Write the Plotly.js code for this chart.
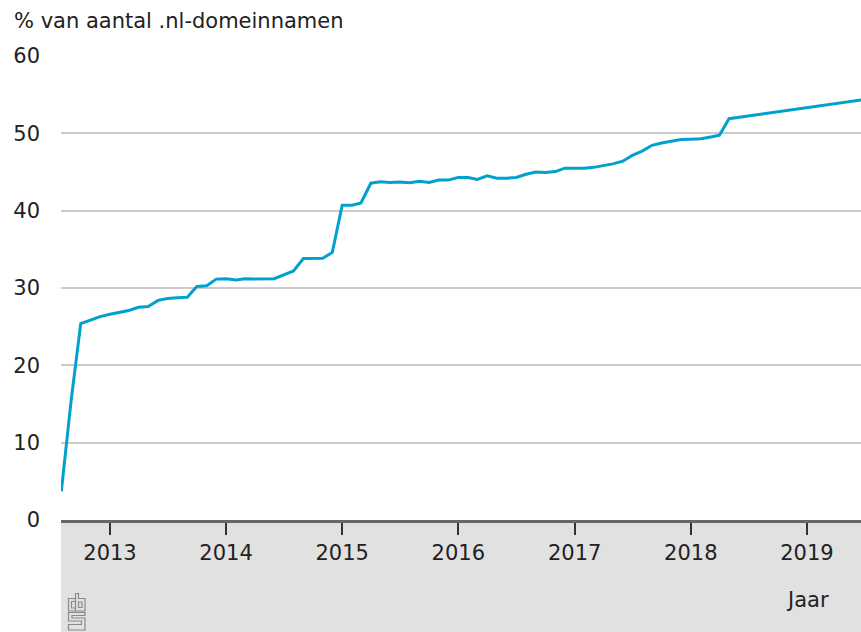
<!DOCTYPE html>
<html><head><meta charset="utf-8">
<script src="https://cdn.plot.ly/plotly-3.0.1.min.js"></script>
<style>html,body{margin:0;padding:0;background:#fff}#chart{width:861px;height:632px}</style>
</head><body><div id="chart"></div>
<script>
const dates = [
 '2012-08-01','2012-09-01','2012-10-01','2012-11-01','2012-12-01',
 '2013-01-01','2013-02-01','2013-03-01','2013-04-01','2013-05-01','2013-06-01','2013-07-01','2013-08-01','2013-09-01','2013-10-01','2013-11-01','2013-12-01',
 '2014-01-01','2014-02-01','2014-03-01','2014-04-01','2014-05-01','2014-06-01','2014-07-01','2014-08-01','2014-09-01','2014-10-01','2014-11-01','2014-12-01',
 '2015-01-01','2015-02-01','2015-03-01','2015-04-01','2015-05-01','2015-06-01','2015-07-01','2015-08-01','2015-09-01','2015-10-01','2015-11-01','2015-12-01',
 '2016-01-01','2016-02-01','2016-03-01','2016-04-01','2016-05-01','2016-06-01','2016-07-01','2016-08-01','2016-09-01','2016-10-01','2016-11-01','2016-12-01',
 '2017-01-01','2017-02-01','2017-03-01','2017-04-01','2017-05-01','2017-06-01','2017-07-01','2017-08-01','2017-09-01','2017-10-01','2017-11-01','2017-12-01',
 '2018-01-01','2018-02-01','2018-03-01','2018-04-01','2018-05-01',
 '2019-07-01'
];
const values = [
 3.7,15.5,25.4,25.9,26.3,
 26.6,26.85,27.1,27.5,27.6,28.4,28.65,28.75,28.8,30.2,30.3,31.15,
 31.2,31.05,31.2,31.15,31.15,31.2,31.7,32.2,33.8,33.8,33.85,34.6,
 40.7,40.7,41.0,43.55,43.75,43.65,43.7,43.6,43.8,43.65,43.95,43.95,
 44.3,44.3,44.05,44.5,44.2,44.2,44.3,44.7,45.0,44.95,45.05,45.5,
 45.5,45.5,45.6,45.8,46.05,46.4,47.15,47.7,48.45,48.75,49.0,49.2,
 49.25,49.3,49.5,49.75,51.9,
 54.37
];
const yTicks = [0,10,20,30,40,50,60];
const xTickVals = ['2013-01-01','2014-01-01','2015-01-01','2016-01-01','2017-01-01','2018-01-01','2019-01-01'];
const xTickText = ['2013','2014','2015','2016','2017','2018','2019'];
const yTitle = '% van aantal .nl-domeinnamen';
const xTitle = 'Jaar';

const L=61, B=520, W=800, H=464;
const px = x => (x-L)/W;
const py = y => (B-y)/H;
function path(pts, close){
  return pts.map((p,i)=>(i?'L':'M')+px(p[0]).toFixed(5)+','+py(p[1]).toFixed(5)).join(' ')+(close?' Z':'');
}
const logoStyle = {type:'path', xref:'paper', yref:'paper', line:{color:'#8a8a8a', width:1.2}, layer:'above'};
const logo = [
  path([[75,598.5],[68.5,598.5],[68.5,611],[75,611]]),
  path([[75,601.5],[71.5,601.5],[71.5,608],[75,608]]),
  path([[75.5,593.5],[78.5,593.5],[78.5,598.5],[85,598.5],[85,611],[75.5,611]],true),
  path([[78.5,602],[82,602],[82,607.5],[78.5,607.5]],true),
  path([[85,612.5],[68.5,612.5],[68.5,621],[81.5,621],[81.5,624.5],[68.5,624.5],[68.5,630],[85,630],[85,618],[72,618],[72,615.5],[85,615.5]],true)
].map(p=>Object.assign({}, logoStyle, {path:p}));

const shapes = [
  {type:'rect', xref:'paper', yref:'paper', x0:0, x1:1, y0:-112/H, y1:0, fillcolor:'#e1e1e1', line:{width:0}, layer:'below'}
].concat(logo);

const font = {family:'DejaVu Sans, sans-serif', size:21, color:'#222'};

const data = [{
  x: dates, y: values, type:'scatter', mode:'lines',
  line:{color:'#00a1cd', width:3}, hoverinfo:'skip', cliponaxis:true
}];

const layout = {
  width:861, height:632,
  margin:{l:L, r:0, t:56, b:112},
  paper_bgcolor:'#fff', plot_bgcolor:'#fff',
  showlegend:false,
  font: font,
  xaxis:{
    type:'date', range:['2012-07-31','2019-06-20'],
    tickvals:xTickVals, ticktext:xTickText,
    ticks:'outside', ticklen:12, tickwidth:2, tickcolor:'#333',
    showline:true, linecolor:'#666', linewidth:3,
    showgrid:false, zeroline:false,
    tickfont:font, fixedrange:true
  },
  yaxis:{
    range:[0,60], tickvals:yTicks,
    showgrid:true, gridcolor:'#cccccc', gridwidth:2,
    zeroline:false, showline:false, ticks:'',
    ticklabelstandoff:20,
    tickfont:font, fixedrange:true
  },
  shapes: shapes,
  annotations:[
    {text:yTitle, xref:'paper', yref:'paper', x:px(12), y:py(21), xanchor:'left', yanchor:'middle', showarrow:false, font:font},
    {text:xTitle, xref:'paper', yref:'paper', x:px(831), y:py(600), xanchor:'right', yanchor:'middle', showarrow:false, font:font}
  ]
};
Plotly.newPlot('chart', data, layout, {displayModeBar:false, staticPlot:true});
</script>
</body></html>
